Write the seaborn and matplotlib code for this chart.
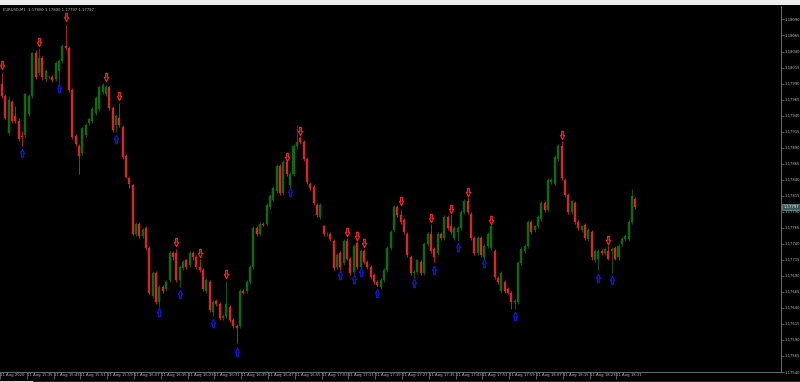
import numpy as np
import pandas as pd
import matplotlib
matplotlib.use("Agg")
import matplotlib.pyplot as plt
import seaborn as sns
from matplotlib.path import Path
from matplotlib.patches import Rectangle
from matplotlib import transforms

# ---------------- data ----------------
symbol_title = "EURUSD,M1  1.17800 1.17800 1.17797 1.17797"
last_price = 1.17797

opens = [
    1.17989, 1.17970, 1.17913, 1.17962, 1.17940, 1.17932, 1.17908, 1.17910, 1.17943, 1.17970,
    1.18037, 1.18007, 1.18030, 1.17997, 1.18000, 1.18001, 1.17997, 1.18010, 1.18025, 1.18048,
    1.18045, 1.17980, 1.17908, 1.17892, 1.17881, 1.17910, 1.17928, 1.17932, 1.17944, 1.17950,
    1.17977, 1.17974, 1.17985, 1.17952, 1.17925, 1.17937, 1.17922, 1.17877, 1.17842, 1.17831,
    1.17756, 1.17771, 1.17752, 1.17764, 1.17734, 1.17658, 1.17695, 1.17649, 1.17672, 1.17669,
    1.17684, 1.17726, 1.17725, 1.17684, 1.17702, 1.17714, 1.17707, 1.17725, 1.17719, 1.17704,
    1.17699, 1.17666, 1.17681, 1.17634, 1.17651, 1.17646, 1.17624, 1.17628, 1.17642, 1.17621,
    1.17612, 1.17612, 1.17666, 1.17666, 1.17681, 1.17704, 1.17764, 1.17755, 1.17771, 1.17771,
    1.17797, 1.17809, 1.17822, 1.17861, 1.17819, 1.17867, 1.17831, 1.17849, 1.17892, 1.17905,
    1.17899, 1.17872, 1.17834, 1.17828, 1.17800, 1.17782, 1.17767, 1.17755, 1.17756, 1.17744,
    1.17704, 1.17725, 1.17710, 1.17744, 1.17717, 1.17696, 1.17741, 1.17704, 1.17729, 1.17711,
    1.17704, 1.17692, 1.17681, 1.17673, 1.17684, 1.17699, 1.17734, 1.17762, 1.17797, 1.17785,
    1.17777, 1.17755, 1.17719, 1.17695, 1.17696, 1.17711, 1.17695, 1.17740, 1.17755, 1.17732,
    1.17725, 1.17755, 1.17749, 1.17782, 1.17767, 1.17749, 1.17759, 1.17764, 1.17789, 1.17807,
    1.17786, 1.17749, 1.17725, 1.17749, 1.17719, 1.17737, 1.17734, 1.17729, 1.17687, 1.17666,
    1.17681, 1.17669, 1.17664, 1.17649, 1.17649, 1.17710, 1.17729, 1.17737, 1.17774, 1.17762,
    1.17767, 1.17779, 1.17804, 1.17792, 1.17837, 1.17834, 1.17872, 1.17892, 1.17839, 1.17816,
    1.17789, 1.17804, 1.17774, 1.17762, 1.17770, 1.17747, 1.17759, 1.17714, 1.17717, 1.17729,
    1.17726, 1.17729, 1.17729, 1.17734, 1.17719, 1.17740, 1.17747, 1.17747, 1.17774, 1.17810,
]

highs = [
    1.18007, 1.17974, 1.17970, 1.17965, 1.17955, 1.17937, 1.17916, 1.17976, 1.17973, 1.18040,
    1.18042, 1.18045, 1.18033, 1.18013, 1.18004, 1.18004, 1.18025, 1.18028, 1.18052, 1.18082,
    1.18048, 1.17983, 1.17911, 1.17895, 1.17923, 1.17928, 1.17937, 1.17953, 1.17970, 1.17988,
    1.17991, 1.17988, 1.17986, 1.17955, 1.17943, 1.17959, 1.17925, 1.17880, 1.17845, 1.17834,
    1.17774, 1.17774, 1.17765, 1.17767, 1.17737, 1.17698, 1.17698, 1.17676, 1.17675, 1.17684,
    1.17728, 1.17729, 1.17732, 1.17707, 1.17714, 1.17717, 1.17729, 1.17728, 1.17722, 1.17717,
    1.17702, 1.17687, 1.17684, 1.17652, 1.17654, 1.17649, 1.17631, 1.17682, 1.17645, 1.17624,
    1.17615, 1.17669, 1.17669, 1.17684, 1.17707, 1.17767, 1.17767, 1.17774, 1.17774, 1.17803,
    1.17818, 1.17830, 1.17864, 1.17864, 1.17870, 1.17870, 1.17852, 1.17895, 1.17926, 1.17908,
    1.17902, 1.17875, 1.17837, 1.17831, 1.17803, 1.17803, 1.17770, 1.17759, 1.17759, 1.17747,
    1.17725, 1.17728, 1.17747, 1.17749, 1.17720, 1.17740, 1.17744, 1.17732, 1.17732, 1.17714,
    1.17707, 1.17695, 1.17684, 1.17687, 1.17702, 1.17737, 1.17762, 1.17800, 1.17800, 1.17795,
    1.17780, 1.17758, 1.17722, 1.17699, 1.17717, 1.17714, 1.17743, 1.17759, 1.17771, 1.17735,
    1.17758, 1.17758, 1.17785, 1.17785, 1.17786, 1.17767, 1.17767, 1.17792, 1.17810, 1.17813,
    1.17789, 1.17752, 1.17752, 1.17752, 1.17740, 1.17758, 1.17771, 1.17732, 1.17690, 1.17698,
    1.17684, 1.17672, 1.17667, 1.17654, 1.17713, 1.17735, 1.17740, 1.17777, 1.17777, 1.17770,
    1.17785, 1.17807, 1.17807, 1.17842, 1.17842, 1.17878, 1.17895, 1.17901, 1.17842, 1.17819,
    1.17809, 1.17807, 1.17777, 1.17770, 1.17773, 1.17765, 1.17762, 1.17732, 1.17732, 1.17732,
    1.17735, 1.17738, 1.17735, 1.17737, 1.17740, 1.17750, 1.17755, 1.17777, 1.17825, 1.17813,
]

lows = [
    1.17967, 1.17934, 1.17910, 1.17929, 1.17929, 1.17901, 1.17892, 1.17907, 1.17940, 1.17967,
    1.17997, 1.18004, 1.17995, 1.17994, 1.17997, 1.17992, 1.17994, 1.17991, 1.18022, 1.18042,
    1.17977, 1.17904, 1.17892, 1.17849, 1.17878, 1.17907, 1.17925, 1.17929, 1.17941, 1.17947,
    1.17974, 1.17971, 1.17949, 1.17914, 1.17914, 1.17922, 1.17872, 1.17842, 1.17827, 1.17753,
    1.17752, 1.17749, 1.17749, 1.17731, 1.17661, 1.17655, 1.17646, 1.17642, 1.17664, 1.17666,
    1.17681, 1.17715, 1.17681, 1.17672, 1.17699, 1.17700, 1.17704, 1.17715, 1.17700, 1.17696,
    1.17666, 1.17663, 1.17633, 1.17627, 1.17643, 1.17621, 1.17621, 1.17625, 1.17618, 1.17609,
    1.17586, 1.17609, 1.17661, 1.17663, 1.17678, 1.17700, 1.17752, 1.17752, 1.17767, 1.17768,
    1.17794, 1.17806, 1.17819, 1.17816, 1.17816, 1.17846, 1.17827, 1.17846, 1.17888, 1.17896,
    1.17869, 1.17834, 1.17824, 1.17801, 1.17782, 1.17779, 1.17752, 1.17752, 1.17744, 1.17699,
    1.17700, 1.17699, 1.17707, 1.17714, 1.17692, 1.17693, 1.17700, 1.17700, 1.17708, 1.17700,
    1.17685, 1.17678, 1.17672, 1.17670, 1.17681, 1.17696, 1.17731, 1.17759, 1.17782, 1.17771,
    1.17756, 1.17719, 1.17692, 1.17684, 1.17693, 1.17692, 1.17692, 1.17737, 1.17726, 1.17711,
    1.17722, 1.17746, 1.17746, 1.17761, 1.17756, 1.17746, 1.17744, 1.17761, 1.17786, 1.17786,
    1.17746, 1.17723, 1.17722, 1.17719, 1.17717, 1.17734, 1.17731, 1.17685, 1.17678, 1.17663,
    1.17663, 1.17661, 1.17639, 1.17639, 1.17646, 1.17707, 1.17726, 1.17734, 1.17756, 1.17759,
    1.17764, 1.17776, 1.17789, 1.17789, 1.17834, 1.17831, 1.17869, 1.17839, 1.17813, 1.17786,
    1.17786, 1.17771, 1.17761, 1.17759, 1.17746, 1.17744, 1.17715, 1.17711, 1.17699, 1.17722,
    1.17723, 1.17714, 1.17695, 1.17714, 1.17715, 1.17737, 1.17744, 1.17744, 1.17771, 1.17794,
]

closes = [
    1.17970, 1.17937, 1.17965, 1.17932, 1.17932, 1.17904, 1.17907, 1.17973, 1.17970, 1.18037,
    1.18000, 1.18030, 1.18000, 1.18010, 1.18001, 1.17995, 1.18022, 1.18025, 1.18049, 1.18045,
    1.17980, 1.17907, 1.17895, 1.17877, 1.17920, 1.17925, 1.17934, 1.17950, 1.17967, 1.17985,
    1.17988, 1.17985, 1.17952, 1.17917, 1.17940, 1.17925, 1.17875, 1.17845, 1.17834, 1.17756,
    1.17771, 1.17752, 1.17762, 1.17734, 1.17664, 1.17695, 1.17649, 1.17673, 1.17667, 1.17681,
    1.17725, 1.17719, 1.17684, 1.17704, 1.17711, 1.17704, 1.17726, 1.17719, 1.17704, 1.17699,
    1.17669, 1.17684, 1.17636, 1.17649, 1.17646, 1.17624, 1.17628, 1.17646, 1.17621, 1.17612,
    1.17609, 1.17666, 1.17664, 1.17681, 1.17704, 1.17764, 1.17755, 1.17771, 1.17770, 1.17800,
    1.17815, 1.17827, 1.17861, 1.17819, 1.17867, 1.17849, 1.17849, 1.17892, 1.17899, 1.17899,
    1.17872, 1.17837, 1.17827, 1.17804, 1.17785, 1.17800, 1.17755, 1.17756, 1.17747, 1.17702,
    1.17722, 1.17704, 1.17744, 1.17717, 1.17695, 1.17737, 1.17704, 1.17729, 1.17711, 1.17704,
    1.17688, 1.17681, 1.17675, 1.17684, 1.17699, 1.17734, 1.17759, 1.17797, 1.17785, 1.17774,
    1.17759, 1.17722, 1.17695, 1.17696, 1.17714, 1.17695, 1.17740, 1.17756, 1.17729, 1.17719,
    1.17755, 1.17749, 1.17782, 1.17764, 1.17759, 1.17764, 1.17764, 1.17789, 1.17807, 1.17789,
    1.17749, 1.17726, 1.17749, 1.17722, 1.17737, 1.17755, 1.17767, 1.17688, 1.17681, 1.17695,
    1.17666, 1.17664, 1.17649, 1.17651, 1.17710, 1.17732, 1.17737, 1.17774, 1.17759, 1.17767,
    1.17782, 1.17804, 1.17792, 1.17839, 1.17839, 1.17875, 1.17892, 1.17842, 1.17816, 1.17789,
    1.17806, 1.17774, 1.17764, 1.17767, 1.17749, 1.17762, 1.17719, 1.17729, 1.17729, 1.17725,
    1.17732, 1.17717, 1.17732, 1.17717, 1.17737, 1.17747, 1.17752, 1.17774, 1.17815, 1.17797,
]

# fractal arrows (bar number, price level of the arrow)
down_arrow_bars = [0, 11, 19, 31, 35, 52, 59, 67, 85, 89, 103, 106, 108, 119, 128, 134, 139, 146, 167, 181]
down_arrow_prices = [1.18019, 1.18055, 1.18094, 1.18000, 1.17970, 1.17743, 1.17726, 1.17693, 1.17875, 1.17916,
                     1.17758, 1.17752, 1.17741, 1.17806, 1.17780, 1.17795, 1.17821, 1.17777, 1.17910, 1.17746]
up_arrow_bars = [6, 17, 34, 47, 53, 63, 70, 86, 101, 105, 107, 112, 123, 129, 136, 144, 153, 178, 182]
up_arrow_prices = [1.17881, 1.17983, 1.17904, 1.17633, 1.17661, 1.17616, 1.17571, 1.17821, 1.17692, 1.17685,
                   1.17696, 1.17664, 1.17679, 1.17699, 1.17735, 1.17710, 1.17628, 1.17687, 1.17684]

time_labels = [
    "11 Aug 2020", "11 Aug 15:35", "11 Aug 15:43", "11 Aug 15:51", "11 Aug 15:59",
    "11 Aug 16:07", "11 Aug 16:15", "11 Aug 16:23", "11 Aug 16:31", "11 Aug 16:39",
    "11 Aug 16:47", "11 Aug 16:55", "11 Aug 17:03", "11 Aug 17:11", "11 Aug 17:19",
    "11 Aug 17:27", "11 Aug 17:35", "11 Aug 17:43", "11 Aug 17:51", "11 Aug 17:59",
    "11 Aug 18:07", "11 Aug 18:15", "11 Aug 18:23", "11 Aug 18:31",
]
bars_per_time_label = 8

price_ticks = [
    1.17540, 1.17565, 1.17590, 1.17615, 1.17640, 1.17665, 1.17690, 1.17715, 1.17740, 1.17765,
    1.17790, 1.17815, 1.17840, 1.17865, 1.17890, 1.17915, 1.17940, 1.17965, 1.17990, 1.18015,
    1.18040, 1.18065, 1.18090,
]

# ---------------- style ----------------
BG = "#000000"
GREEN = "#0f6a12"
RED = "#d22828"
AXC = "#6f8080"
TXT = "#b0bebe"

sns.set_theme(style="dark", rc={
    "axes.facecolor": BG, "figure.facecolor": BG, "savefig.facecolor": BG,
    "axes.grid": False,
})
plt.rcParams["font.family"] = ["DejaVu Sans"]

df = pd.DataFrame({"open": opens, "high": highs, "low": lows, "close": closes})
df["bar"] = np.arange(len(df))
df["bull"] = df["close"] >= df["open"]
colors = np.where(df["bull"], GREEN, RED)

fig = plt.figure(figsize=(8.0, 3.82), dpi=100)
ax = fig.add_axes([0.0, 10 / 382, 781 / 800, 366 / 382])
ax.set_facecolor(BG)

# wicks and bodies
ax.vlines(df["bar"], df["low"], df["high"], colors=colors, linewidth=0.7, alpha=0.85, zorder=2)
ax.bar(df["bar"], df["close"] - df["open"], bottom=df["open"], width=0.6,
       color=colors, edgecolor=colors, linewidth=0.3, zorder=3)

# hollow arrows
down_path = Path([(-0.2, 1), (0.2, 1), (0.2, 0.05), (0.5, 0.05), (0, -1),
                  (-0.5, 0.05), (-0.2, 0.05), (-0.2, 1)], closed=True)
up_path = Path([(-0.2, -1), (0.2, -1), (0.2, -0.05), (0.5, -0.05), (0, 1),
                (-0.5, -0.05), (-0.2, -0.05), (-0.2, -1)], closed=True)
sns.scatterplot(x=down_arrow_bars, y=down_arrow_prices, marker=down_path, s=36,
                color=BG, edgecolor="#f42626", linewidth=0.85, ax=ax, zorder=5, legend=False)
sns.scatterplot(x=up_arrow_bars, y=up_arrow_prices, marker=up_path, s=36,
                color=BG, edgecolor="#1616d2", linewidth=0.85, ax=ax, zorder=5, legend=False)

ax.set_xlim(-0.6, 232.5)
ax.set_ylim(1.17561, 1.18111)
ax.set_xlabel("")
ax.set_ylabel("")

# price axis on the right
ax.yaxis.tick_right()
ax.set_yticks(price_ticks)
ax.set_yticklabels([f"{p:.5f}" for p in price_ticks])
ax.tick_params(axis="y", which="both", direction="out", length=1.8, width=0.5,
               color=AXC, labelsize=2.7, labelcolor=TXT, pad=1.0,
               right=True, left=False, labelright=True, labelleft=False)

# time axis
xt = [bars_per_time_label * k - 0.6 for k in range(len(time_labels))]
ax.set_xticks(xt)
ax.set_xticklabels(time_labels, ha="left")
ax.tick_params(axis="x", which="both", direction="out", length=5, width=0.5,
               color=AXC, labelsize=2.7, labelcolor=TXT, pad=-4.6, bottom=True)

for side in ("top", "left"):
    ax.spines[side].set_visible(False)
for side in ("bottom", "right"):
    ax.spines[side].set_visible(True)
    ax.spines[side].set_color(AXC)
    ax.spines[side].set_linewidth(0.6)

# current price box
tr = transforms.blended_transform_factory(ax.transAxes, ax.transData)
ax.text(1.003, last_price, f"{last_price:.5f}", transform=tr, ha="left", va="center",
        fontsize=2.7, color="#e6f0f0", clip_on=False, zorder=6,
        bbox=dict(boxstyle="square,pad=0.25", fc="#3b5b5b", ec="#8fb0b0", lw=0.4))

# chart title (symbol & OHLC)
fig.text(3 / 800, 1 - 10 / 382, symbol_title, fontsize=2.7, color=TXT, ha="left", va="center")

# window chrome: toolbar strip and bottom border
fig.add_artist(Rectangle((0, 1 - 5 / 382), 1, 5 / 382, transform=fig.transFigure,
                         fc="#ececec", ec="none", zorder=10))
fig.add_artist(Rectangle((0, 0), 1, 1.5 / 382, transform=fig.transFigure,
                         fc="#2c2c2c", ec="none", zorder=10))
fig.add_artist(Rectangle((0, 0), 33 / 800, 1.5 / 382, transform=fig.transFigure,
                         fc="#d8d8d8", ec="none", zorder=11))

fig.savefig("out.png", dpi=100, facecolor=BG)
